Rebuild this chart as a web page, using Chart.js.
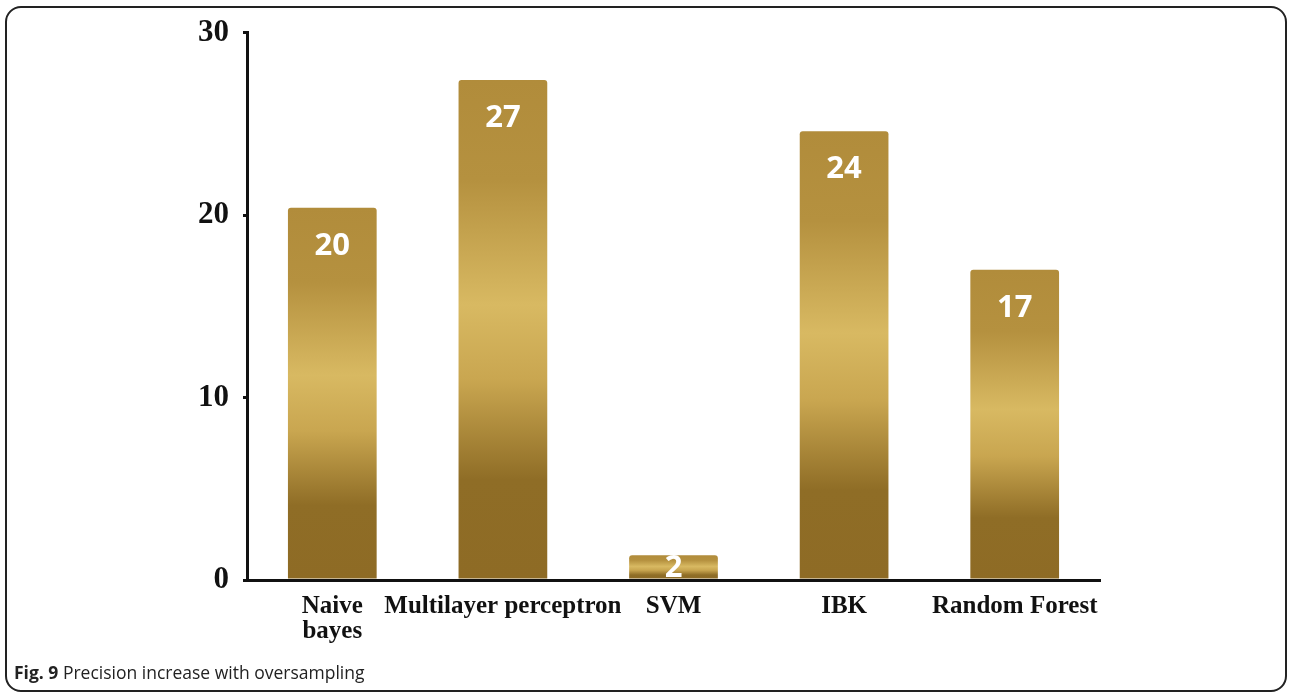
<!DOCTYPE html>
<html>
<head>
<meta charset="utf-8">
<script src="https://cdn.jsdelivr.net/npm/chart.js@4.4.1/dist/chart.umd.min.js"></script>
<style>
  html, body { margin:0; padding:0; background:#fff; }
  body { width:1290px; height:693px; position:relative; overflow:hidden; }
  #frame { position:absolute; left:5px; top:6px; right:3px; bottom:1px; border:2px solid #222; border-radius:16px; box-sizing:border-box; }
  #wrap { position:absolute; left:0; top:0; width:1290px; height:693px; }
  #caption { position:absolute; left:14px; top:660px; font-family:"Open Sans", sans-serif; font-size:17.5px; color:#222; white-space:nowrap; }
  #caption b { font-weight:700; }
</style>
</head>
<body>
<div id="frame"></div>
<div id="wrap"><canvas id="c" width="1290" height="693"></canvas></div>
<div id="caption"><b>Fig. 9</b> Precision increase with oversampling</div>
<script>
const categories = [["Naive", "bayes"], "Multilayer perceptron", "SVM", "IBK", "Random Forest"];
const barValues = [20.4, 27.4, 1.35, 24.6, 17.0];
const valueLabels = ["20", "27", "2", "24", "17"];
const yTicks = [0, 10, 20, 30];

function barGradient(ctx) {
  const chart = ctx.chart;
  const { chartArea } = chart;
  if (!chartArea || ctx.type !== 'data') return '#b08b3a';
  const y = chart.scales.y;
  const top = y.getPixelForValue(ctx.raw);
  const base = y.getPixelForValue(0);
  const g = chart.ctx.createLinearGradient(0, top, 0, base);
  g.addColorStop(0, '#b18c3b');
  g.addColorStop(0.2, '#b5913f');
  g.addColorStop(0.45, '#d8b962');
  g.addColorStop(0.6, '#c9a650');
  g.addColorStop(0.8, '#8f6d26');
  g.addColorStop(1, '#8e6b25');
  return g;
}

const valueLabelPlugin = {
  id: 'valueLabels',
  afterDatasetsDraw(chart) {
    const meta = chart.getDatasetMeta(0);
    const c = chart.ctx;
    c.save();
    c.fillStyle = '#ffffff';
    c.font = 'bold 31px "Open Sans", sans-serif';
    c.textAlign = 'center';
    c.textBaseline = 'middle';
    meta.data.forEach((el, i) => {
      const yy = Math.min(el.y + 38, el.base - 10);
      c.fillText(valueLabels[i], el.x, yy);
    });
    c.restore();
  }
};

new Chart(document.getElementById('c'), {
  type: 'bar',
  data: {
    labels: categories,
    datasets: [{
      data: barValues,
      backgroundColor: barGradient,
      borderRadius: { topLeft: 3, topRight: 3, bottomLeft: 0, bottomRight: 0 },
      borderSkipped: 'bottom',
      barPercentage: 0.52,
      categoryPercentage: 1.0
    }]
  },
  options: {
    responsive: false,
    animation: false,
    devicePixelRatio: 1,
    layout: { padding: { top: 30, right: 190, left: 0, bottom: 0 } },
    plugins: { legend: { display: false }, tooltip: { enabled: false } },
    scales: {
      x: {
        offset: true,
        grid: { display: false, drawTicks: false },
        border: { display: true, color: '#111', width: 3 },
        ticks: {
          color: '#111',
          padding: 14,
          maxRotation: 0,
          autoSkip: false,
          font: { family: '"Liberation Serif", "Times New Roman", serif', weight: 'bold', size: 25, lineHeight: 1.0 }
        },
        afterFit(scale) { scale.height = 113; }
      },
      y: {
        min: 0, max: 30,
        afterBuildTicks(scale) { scale.ticks = yTicks.map(v => ({ value: v })); },
        grid: { drawOnChartArea: false, drawTicks: true, tickLength: 4, color: '#111', lineWidth: 3 },
        border: { display: true, color: '#111', width: 3 },
        ticks: {
          color: '#111',
          padding: 14,
          font: { family: '"Liberation Serif", "Times New Roman", serif', weight: 'bold', size: 31 }
        },
        afterFit(scale) { scale.width = 247; }
      }
    }
  },
  plugins: [valueLabelPlugin]
});
</script>
</body>
</html>
